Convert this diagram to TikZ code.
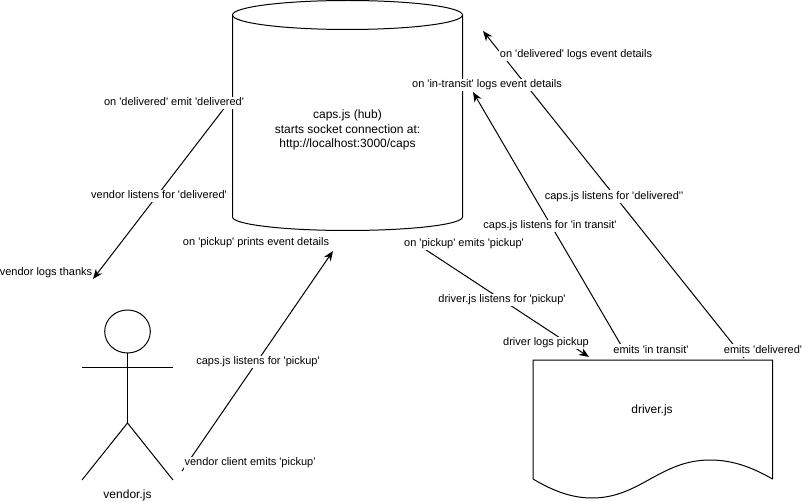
\documentclass[tikz,border=0pt]{standalone}
\usepackage{fontspec}
\usetikzlibrary{arrows.meta}
\newfontfamily\labelfont{Liberation Sans}
\tikzset{
  msg/.style={font=\labelfont\fontsize{8.25}{10}\selectfont, fill=white, inner sep=0.8pt, text height=6pt, text depth=1.7pt},
  title/.style={font=\labelfont\fontsize{9}{10.9}\selectfont, align=center, inner sep=0pt},
  shapeline/.style={line width=0.75pt, line join=round},
  flow/.style={->, line width=0.75pt}
}
\begin{document}
\begin{tikzpicture}[x=0.75pt, y=-0.75pt, >={Stealth[length=7.5pt, width=6pt]}]
  \useasboundingbox (0,0) rectangle (803,502);

  % 1. caps.js hub
  \draw[shapeline] (232.5,15) -- (232.5,217) arc[start angle=180, end angle=360, x radius=115, y radius=-13.5] -- (462.5,15);
  \draw[shapeline] (347.5,15) ellipse [x radius=115, y radius=14.5];
  \node[title] (hub) at (347.5,130) {caps.js (hub)\\starts socket connection at:\\http://localhost:3000/caps};

  % 2. vendor figure
  \draw[shapeline] (127.5,331.5) ellipse [x radius=22.8, y radius=21.5];
  \draw[shapeline] (127.5,353) -- (127.5,423);
  \draw[shapeline] (82,367) -- (173,367);
  \draw[shapeline] (82,480) -- (127.5,423) -- (173,480);
  \node[title] (vendor) at (127.5,495) {vendor.js};

  % 3. driver.js document
  \draw[shapeline] (533,479) -- (533,360) -- (772.5,360) -- (772.5,479)
    .. controls (755,469) and (735,460) .. (710,460)
    .. controls (660,460) and (640,498) .. (592,498)
    .. controls (572,498) and (553,491) .. (533,479);
  \node[title] (driver) at (652,410) {driver.js};

  % 4. connector ends
  \coordinate (deliveredOut) at (229,102);
  \coordinate (thanksIn)     at (93,279);
  \coordinate (pickupOut)    at (182,471);
  \coordinate (pickupIn)     at (333,251);
  \coordinate (hubOut)       at (414,242);
  \coordinate (driverIn)     at (589,357);
  \coordinate (transitOut)   at (628,357);
  \coordinate (transitIn)    at (473,92);
  \coordinate (lastOut)      at (744,358);
  \coordinate (lastIn)       at (483,31);

  % 5. messages
  \draw[flow] (deliveredOut) -- (thanksIn);
  \draw[flow] (pickupOut) -- (pickupIn);
  \draw[flow] (hubOut) -- (driverIn);
  \draw[flow] (transitOut) -- (transitIn);
  \draw[flow] (lastOut) -- (lastIn);

  % 6. labels over the lines
  \node[msg] (l1)  at (174,103) {on 'delivered' emit 'delivered'};
  \node[msg] (l2)  at (159,196) {vendor listens for 'delivered'};
  \node[msg] (l3)  at (46,273)  {vendor logs thanks};
  \node[msg] (l4)  at (256,243) {on 'pickup' prints event details};
  \node[msg] (l5)  at (258,362) {caps.js listens for 'pickup'};
  \node[msg] (l6)  at (250,463) {vendor client emits 'pickup'};
  \node[msg] (l7)  at (576,54.5)  {on 'delivered' logs event details};
  \node[msg] (l8)  at (487,85)  {on 'in-transit' logs event details};
  \node[msg] (l9)  at (614,196.5) {caps.js listens for 'delivered''};
  \node[msg] (l10) at (550,226) {caps.js listens for 'in transit'};
  \node[msg] (l11) at (464,244) {on 'pickup' emits 'pickup'};
  \node[msg] (l12) at (502,300) {driver.js listens for 'pickup'};
  \node[msg] (l13) at (546,343) {driver logs pickup};
  \node[msg] (l14) at (651,350.5) {emits 'in transit'};
  \node[msg] (l15) at (763,350.5) {emits 'delivered'};
\end{tikzpicture}
\end{document}
